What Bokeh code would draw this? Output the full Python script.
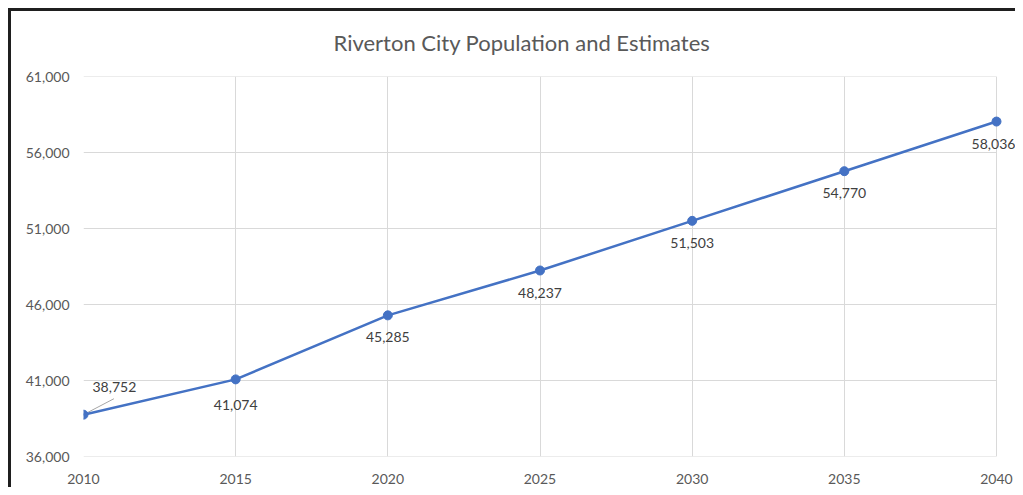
from bokeh.plotting import figure
from bokeh.models import ColumnDataSource, LabelSet, Range1d, FixedTicker, NumeralTickFormatter
from bokeh.embed import file_html
from bokeh.resources import INLINE
from bokeh.core.properties import value

years = [2010, 2015, 2020, 2025, 2030, 2035, 2040]
population = [38752, 41074, 45285, 48237, 51503, 54770, 58036]
label_text = ["38,752", "41,074", "45,285", "48,237", "51,503", "54,770", "58,036"]
y_ticks = [36000, 41000, 46000, 51000, 56000, 61000]
title_text = "Riverton City Population and Estimates"

# label placement (styling, not data)
lx_off = [9, 0, 0, 0, 0, 0, -3]
ly_off = [28, -26, -22, -23, -22, -22, -22]
l_align = ["left", "center", "center", "center", "center", "center", "center"]

FONT = "Lato"
W, H = 1015, 487
BL, BT = 83, 76          # plot-area left / top in pixels
PX_2040, FR_B = 996, 456  # pixel of last category and plot-area bottom
x0, x1 = years[0], years[-1]
x_end = x1 + (W - PX_2040) * (x1 - x0) / (PX_2040 - BL)   # let labels at 2040 overflow a little

p = figure(width=W, height=H, output_backend="svg", toolbar_location=None,
           x_range=Range1d(x0, x_end), y_range=Range1d(y_ticks[0], y_ticks[-1]),
           min_border_left=BL, min_border_right=0, min_border_top=BT,
           min_border_bottom=H - FR_B,
           background_fill_color="white", border_fill_color=None)
p.outline_line_color = None
p.styles = {
    "background-color": "white",
    "background-image": "linear-gradient(#1f1f1f, #1f1f1f), linear-gradient(#1f1f1f, #1f1f1f)",
    "background-position": "8px 8px, 8px 8px",
    "background-size": "3px 100%, 100% 3px",
    "background-repeat": "no-repeat, no-repeat",
}

p.title.text = title_text
p.title.align = "left"
p.title.offset = 250
p.title.standoff = 42
p.title.text_font = FONT
p.title.text_font_size = "22px"
p.title.text_font_style = "normal"
p.title.text_color = "#595959"

p.xaxis.ticker = FixedTicker(ticks=years)
p.yaxis.ticker = FixedTicker(ticks=y_ticks)
p.yaxis.formatter = NumeralTickFormatter(format="0,0")
for ax in (p.xaxis, p.yaxis):
    ax.axis_line_color = None
    ax.major_tick_line_color = None
    ax.minor_tick_line_color = None
    ax.major_label_text_color = "#595959"
    ax.major_label_text_font = FONT
    ax.major_label_text_font_size = "14px"
p.yaxis.major_label_standoff = 8
p.xaxis.major_label_standoff = 11
p.xgrid.grid_line_color = "#d9d9d9"
p.xgrid.grid_line_width = 1
p.ygrid.visible = False
# horizontal gridlines only across the category span
p.segment(x0=[x0] * len(y_ticks), x1=[x1] * len(y_ticks), y0=y_ticks, y1=y_ticks,
          line_color="#d9d9d9", line_width=1)

src = ColumnDataSource(dict(x=years, y=population, t=label_text,
                            xo=lx_off, yo=ly_off, al=l_align))

# leader line for first label
p.segment(x0=[years[0]], y0=[population[0]], x1=[years[0] + 1.0], y1=[population[0] + 1050],
          line_color="#a6a6a6", line_width=1)

p.line("x", "y", source=src, line_color="#4472C4", line_width=2.5)
p.scatter("x", "y", source=src, size=9, fill_color="#4472C4", line_color="#4472C4")

labels = LabelSet(x="x", y="y", text="t", source=src, x_offset="xo", y_offset="yo",
                  text_align="al", text_baseline="middle", text_color="#404040",
                  text_font=value(FONT), text_font_size="14px")
p.add_layout(labels)

open("out.html", "w").write(file_html(p, INLINE))
